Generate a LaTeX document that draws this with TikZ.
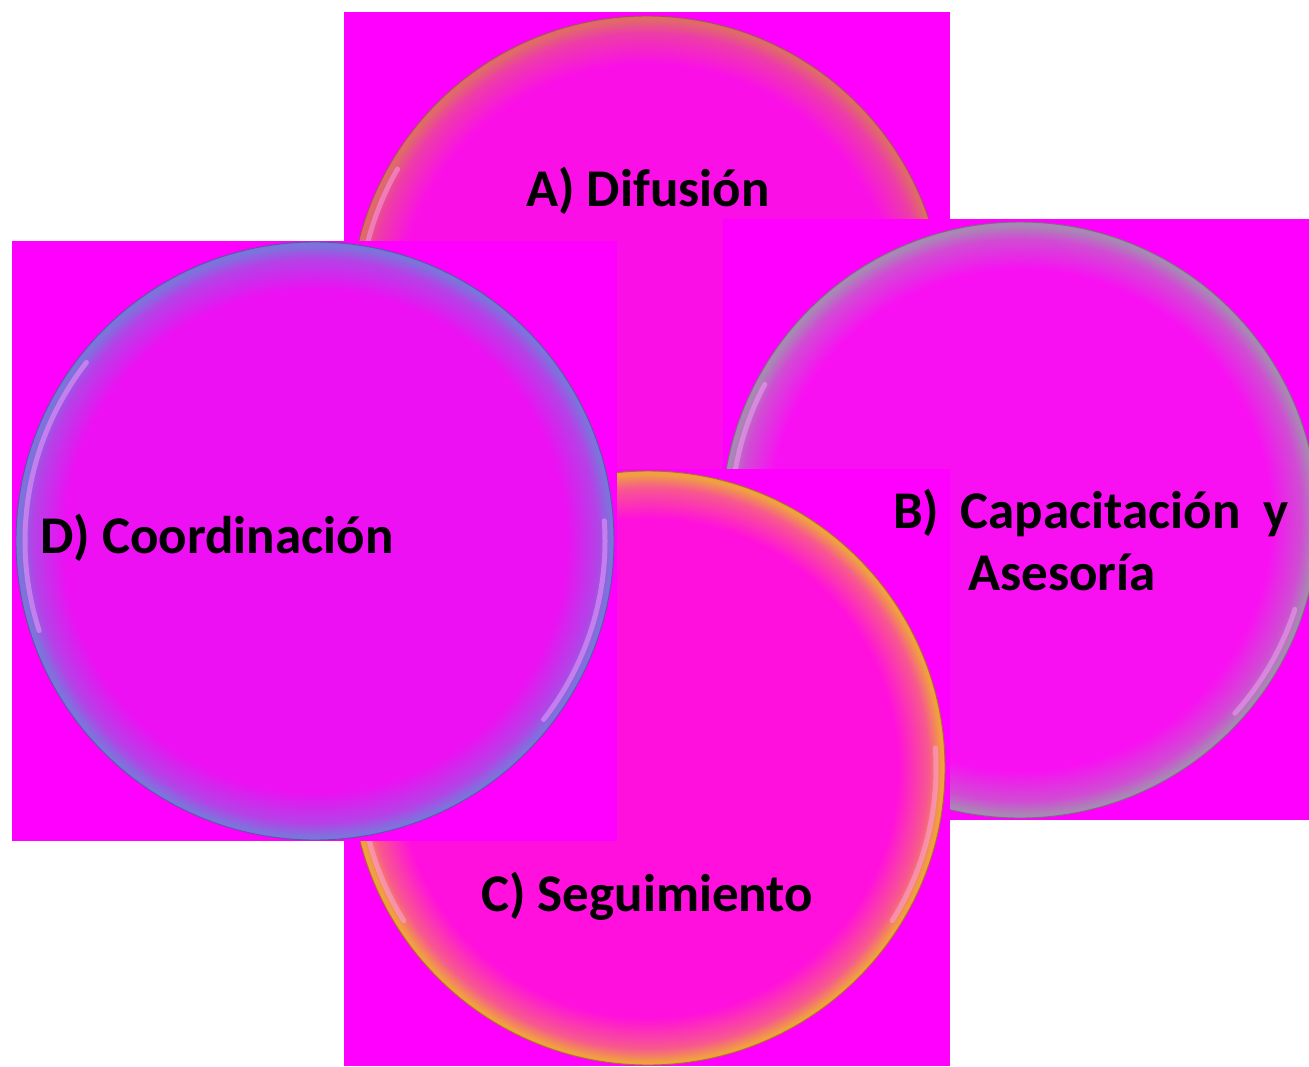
\documentclass[tikz,border=0pt]{standalone}
\usepackage{fontspec}
\setmainfont{Carlito}
\definecolor{bgmag}{HTML}{FF00FF}
\definecolor{fillA}{HTML}{FA10E6}
\definecolor{rimA}{HTML}{E06A68}
\definecolor{lineA}{HTML}{A05060}
\definecolor{fillB}{HTML}{F810F2}
\definecolor{rimB}{HTML}{A888B4}
\definecolor{lineB}{HTML}{806880}
\definecolor{fillC}{HTML}{FF10DC}
\definecolor{rimC}{HTML}{F0A040}
\definecolor{lineC}{HTML}{A87020}
\definecolor{fillD}{HTML}{EC10F2}
\definecolor{rimD}{HTML}{7C74DC}
\definecolor{lineD}{HTML}{5858A0}
\definecolor{shine}{HTML}{FFA8FF}
\colorlet{midA}{rimA!50!fillA}
\colorlet{midB}{rimB!50!fillB}
\colorlet{midC}{rimC!50!fillC}
\colorlet{midD}{rimD!50!fillD}
\pgfdeclareradialshading{shA}{\pgfpointorigin}{color(0bp)=(fillA); color(21bp)=(fillA); color(23.6bp)=(midA); color(24.75bp)=(rimA); color(50bp)=(rimA)}
\pgfdeclareradialshading{shB}{\pgfpointorigin}{color(0bp)=(fillB); color(21bp)=(fillB); color(23.6bp)=(midB); color(24.75bp)=(rimB); color(50bp)=(rimB)}
\pgfdeclareradialshading{shC}{\pgfpointorigin}{color(0bp)=(fillC); color(21bp)=(fillC); color(23.6bp)=(midC); color(24.75bp)=(rimC); color(50bp)=(rimC)}
\pgfdeclareradialshading{shD}{\pgfpointorigin}{color(0bp)=(fillD); color(21bp)=(fillD); color(23.6bp)=(midD); color(24.75bp)=(rimD); color(50bp)=(rimD)}
\tikzset{
  panel/.style={fill=bgmag, draw=none},
  disc/.style={circle, inner sep=0pt, minimum size=#1, line width=0.9pt},
  hilite/.style={draw=shine, line width=5pt, opacity=0.45, line cap=round},
  label/.style={inner sep=0pt, anchor=base west, font=\fontsize{53}{64}\selectfont\bfseries, text=black}
}
\begin{document}
\begin{tikzpicture}[x=1pt,y=1pt]
\useasboundingbox (0,0) rectangle (1309,-1066);
% A
\fill[panel] (344,-12) rectangle (950,-618);
\node[disc=594pt, shade, shading=shA, draw=lineA] (cA) at (647,-313) {};
\draw[hilite] (cA.center) ++(150:288pt) arc[start angle=150, end angle=200, radius=288pt];
% B
\fill[panel] (723,-219) rectangle (1309,-820);
\node[disc=596pt, shade, shading=shB, draw=lineB] (cB) at (1020,-520) {};
\draw[hilite] (cB.center) ++(152:289pt) arc[start angle=152, end angle=198, radius=289pt];
\draw[hilite] (cB.center) ++(-18:289pt) arc[start angle=-18, end angle=-42, radius=289pt];
% C
\fill[panel] (344,-469) rectangle (950,-1066);
\node[disc=594pt, shade, shading=shC, draw=lineC] (cC) at (648,-768) {};
\draw[hilite] (cC.center) ++(4:288pt) arc[start angle=4, end angle=-32, radius=288pt];
\draw[hilite] (cC.center) ++(192:288pt) arc[start angle=192, end angle=212, radius=288pt];
% D
\fill[panel] (12,-241) rectangle (617,-841);
\node[disc=598pt, shade, shading=shD, draw=lineD] (cD) at (315,-541) {};
\draw[hilite] (cD.center) ++(142:290pt) arc[start angle=142, end angle=198, radius=290pt];
\draw[hilite] (cD.center) ++(4:290pt) arc[start angle=4, end angle=-38, radius=290pt];
% labels
\node[label] (tA) at (526,-206) {A) Difusión};
\node[label] (tB1) at (893,-528) {B)\hspace{21pt}Capacitación\hspace{23pt}y};
\node[label] (tB2) at (968,-590) {Asesoría};
\node[label] (tC) at (481,-911) {C) Seguimiento};
\node[label] (tD) at (40,-553) {D) Coordinación};
\end{tikzpicture}
\end{document}
